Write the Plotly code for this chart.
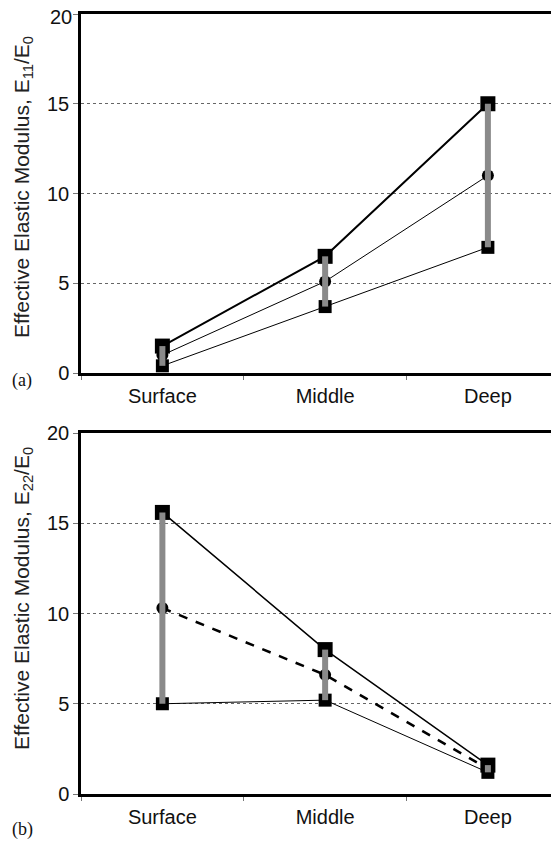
import plotly.graph_objects as go

categories = ["Surface", "Middle", "Deep"]
a_upper = [1.5, 6.5, 15.0]
a_mean = [1.0, 5.1, 11.0]
a_lower = [0.4, 3.7, 7.0]
b_upper = [15.6, 8.0, 1.6]
b_mean = [10.3, 6.6, 1.4]
b_lower = [5.0, 5.2, 1.2]
y_ticks = [0, 5, 10, 15, 20]

OFF = 8  # page body margin
W, H = 559 - OFF, 841 - OFF
L = 81 - OFF
fig = go.Figure()

def add_panel(xa, ya, upper, mean, lower, mean_dash, mean_w, upper_w):
    fig.add_trace(go.Scatter(x=categories, y=lower, mode="lines+markers", xaxis=xa, yaxis=ya,
                             line=dict(color="black", width=1),
                             marker=dict(symbol="square", size=13, color="black"), showlegend=False))
    fig.add_trace(go.Scatter(x=categories, y=upper, mode="lines+markers", xaxis=xa, yaxis=ya,
                             line=dict(color="black", width=upper_w),
                             marker=dict(symbol="square", size=15, color="black"), showlegend=False))
    fig.add_trace(go.Scatter(x=categories, y=mean, mode="lines+markers", xaxis=xa, yaxis=ya,
                             line=dict(color="black", width=mean_w, dash=mean_dash),
                             marker=dict(symbol="circle", size=12, color="black"), showlegend=False))
    for c, lo, hi in zip(categories, lower, upper):
        fig.add_trace(go.Scatter(x=[c, c], y=[lo, hi], mode="lines", xaxis=xa, yaxis=ya,
                                 line=dict(color="#8a8a8a", width=6), showlegend=False))

add_panel("x", "y", a_upper, a_mean, a_lower, "solid", 1, 2)
add_panel("x2", "y2", b_upper, b_mean, b_lower, "dash", 2.5, 1.5)

def px_y(p):
    return 1 - (p - OFF) / H

def px_x(p):
    return (p - OFF - L) / (W - L)

xright = (559 - 163) / 162.5

tick_font = dict(family="Liberation Sans, Arial", size=20, color="#111")
xcommon = dict(type="category", categoryorder="array", categoryarray=categories,
               range=[-0.5, xright], showline=True, linecolor="black", linewidth=3,
               mirror=True, showgrid=False, zeroline=False, ticks="outside", tickson="boundaries",
               ticklen=4, tickcolor="#777", tickwidth=1, tickfont=tick_font,
               ticklabelstandoff=3, automargin=False)
ycommon = dict(range=[0, 20], tickvals=y_ticks, showline=True, linecolor="black", linewidth=2.5,
               showgrid=True, gridcolor="#666", gridwidth=1, griddash="dot", zeroline=False,
               ticks="outside", ticklen=5, tickcolor="#777", tickwidth=1, tickfont=tick_font,
               automargin=False)

fig.update_layout(
    width=W, height=H,
    margin=dict(l=L, r=0, t=0, b=0),
    paper_bgcolor="white", plot_bgcolor="white",
    xaxis=dict(domain=[0, 1], anchor="y", **xcommon),
    yaxis=dict(domain=[px_y(373), px_y(14)], anchor="x", **ycommon),
    xaxis2=dict(domain=[0, 1], anchor="y2", **xcommon),
    yaxis2=dict(domain=[px_y(794), px_y(433)], anchor="x2", **ycommon),
)

# top tick label of panel (a) sits at the page edge, where plotly hides it; redraw it on the axis
fig.add_annotation(text=str(y_ticks[-1]), xref="paper", yref="y", x=px_x(74), y=y_ticks[-1],
                   showarrow=False, font=tick_font, xanchor="right", yanchor="middle", yshift=-3)

title_font = dict(family="Liberation Sans, Arial", size=21, color="#222")
fig.add_annotation(text="Effective Elastic Modulus, E<sub>11</sub>/E<sub>0</sub>", textangle=-90,
                   xref="paper", yref="paper", x=px_x(23), y=px_y(187), showarrow=False,
                   font=title_font, xanchor="center", yanchor="middle")
fig.add_annotation(text="Effective Elastic Modulus, E<sub>22</sub>/E<sub>0</sub>", textangle=-90,
                   xref="paper", yref="paper", x=px_x(23), y=px_y(599), showarrow=False,
                   font=title_font, xanchor="center", yanchor="middle")
lab_font = dict(family="Liberation Serif, Times New Roman", size=18, color="#111")
fig.add_annotation(text="(a)", xref="paper", yref="paper", x=px_x(22), y=px_y(380), showarrow=False,
                   font=lab_font, xanchor="center", yanchor="middle")
fig.add_annotation(text="(b)", xref="paper", yref="paper", x=px_x(22), y=px_y(829), showarrow=False,
                   font=lab_font, xanchor="center", yanchor="middle")

fig.write_html("out.html")
